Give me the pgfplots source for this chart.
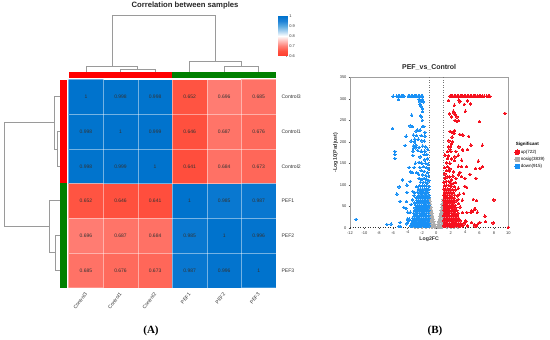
\documentclass[border=0pt]{standalone}
\usepackage{pgfplots}
\pgfplotsset{compat=1.18}
\usepackage{pgfplotstable}
\usepackage{fontspec}
\setmainfont{Liberation Sans}
\newfontfamily\serifb{Liberation Serif}
\definecolor{dend}{HTML}{9A9A9A}
\definecolor{upred}{HTML}{F5101E}
\definecolor{downblue}{HTML}{1890F5}
\definecolor{nsgray}{HTML}{ADADAD}
\definecolor{bargreen}{HTML}{008000}
\definecolor{txt}{HTML}{333333}
\pgfplotsset{hm/.style={colormap={hm}{rgb255=(255,60,45) rgb255=(255,82,64) rgb255=(255,128,118) rgb255=(255,190,185) rgb255=(255,255,255) rgb255=(170,210,240) rgb255=(90,170,225) rgb255=(30,130,215) rgb255=(0,115,205)},point meta min=0.6,point meta max=1}}
\pgfplotstableread{
x y z t
0 0 1 1
1 0 0.998 0.998
2 0 0.998 0.998
3 0 0.652 0.652
4 0 0.696 0.696
5 0 0.685 0.685
0 1 0.998 0.998
1 1 1 1
2 1 0.999 0.999
3 1 0.646 0.646
4 1 0.687 0.687
5 1 0.676 0.676
0 2 0.998 0.998
1 2 0.999 0.999
2 2 1 1
3 2 0.641 0.641
4 2 0.684 0.684
5 2 0.673 0.673
0 3 0.652 0.652
1 3 0.646 0.646
2 3 0.641 0.641
3 3 1 1
4 3 0.985 0.985
5 3 0.987 0.987
0 4 0.696 0.696
1 4 0.687 0.687
2 4 0.684 0.684
3 4 0.985 0.985
4 4 1 1
5 4 0.996 0.996
0 5 0.685 0.685
1 5 0.676 0.676
2 5 0.673 0.673
3 5 0.987 0.987
4 5 0.996 0.996
5 5 1 1
}\hmdata
\begin{document}
\begin{tikzpicture}[x=1pt,y=1pt]
\path[use as bounding box] (0,0) rectangle (550,340);
% ---------- overlay in picture pixels: dendrograms, bars, titles
\begin{axis}[at={(0pt,0pt)},anchor=south west,scale only axis,width=550pt,height=340pt,
  xmin=0,xmax=550,ymin=0,ymax=340,y dir=reverse,hide axis,clip=false]
\addplot[fill=red,draw=none] coordinates {(68.7,71.7)(172.3,71.7)(172.3,78)(68.7,78)} -- cycle;
\addplot[fill=bargreen,draw=none] coordinates {(172.3,71.7)(276,71.7)(276,78)(172.3,78)} -- cycle;
\addplot[fill=red,draw=none] coordinates {(59.7,79.7)(67,79.7)(67,183.3)(59.7,183.3)} -- cycle;
\addplot[fill=bargreen,draw=none] coordinates {(59.7,183.3)(67,183.3)(67,287.7)(59.7,287.7)} -- cycle;
% top dendrogram
\addplot[dend,line width=.7pt] coordinates {(112,66.3)(112,15.7)(215.3,15.7)(215.3,61.3)};
\addplot[dend,line width=.7pt] coordinates {(86,71.5)(86,66.3)(137.7,66.3)(137.7,69.3)};
\addplot[dend,line width=.7pt] coordinates {(120.3,71.5)(120.3,69.3)(155.3,69.3)(155.3,71.5)};
\addplot[dend,line width=.7pt] coordinates {(189.7,71.5)(189.7,61.3)(241.3,61.3)(241.3,66.7)};
\addplot[dend,line width=.7pt] coordinates {(224,71.5)(224,66.7)(258.7,66.7)(258.7,71.5)};
% left dendrogram
\addplot[dend,line width=.7pt] coordinates {(54.3,122.7)(4.7,122.7)(4.7,226.7)(49.3,226.7)};
\addplot[dend,line width=.7pt] coordinates {(59.5,96.7)(54.3,96.7)(54.3,149)(57.3,149)};
\addplot[dend,line width=.7pt] coordinates {(59.5,131.7)(57.3,131.7)(57.3,166)(59.5,166)};
\addplot[dend,line width=.7pt] coordinates {(59.5,200.7)(49.3,200.7)(49.3,252.7)(55,252.7)};
\addplot[dend,line width=.7pt] coordinates {(59.5,235.7)(55,235.7)(55,270)(59.5,270)};
\node[font=\fontsize{7.7}{9}\selectfont\bfseries,text=black!85] at (axis cs:185,6) {Correlation between samples};
\node[font=\fontsize{11}{13}\selectfont\serifb\bfseries] at (axis cs:151,331) {(A)};
\node[font=\fontsize{11}{13}\selectfont\serifb\bfseries] at (axis cs:435,331) {(B)};
\end{axis}
% ---------- heatmap
\begin{axis}[at={(68.7pt,52.3pt)},anchor=south west,scale only axis,width=207.3pt,height=208pt,hm,
  xmin=-0.5,xmax=5.5,ymin=-0.5,ymax=5.5,y dir=reverse,enlargelimits=false,
  axis on top,axis line style={draw=none},
  xtick={0,1,2,3,4,5},ytick={0,1,2,3,4,5},
  xticklabels={Control3,Control1,Control2,PEF1,PEF2,PEF3},
  yticklabels={Control3,Control1,Control2,PEF1,PEF2,PEF3},
  minor xtick={0.5,1.5,2.5,3.5,4.5},minor ytick={0.5,1.5,2.5,3.5,4.5},
  xminorgrids,yminorgrids,minor grid style={white,opacity=.45,line width=.5pt,solid},
  tick style={draw=none},minor tick length=0pt,major tick length=0pt,
  yticklabel pos=right,xtick pos=bottom,
  xticklabel style={rotate=52,anchor=north east,font=\fontsize{5}{6}\selectfont,text=txt,xshift=-1pt,yshift=1.8pt},
  yticklabel style={anchor=west,font=\fontsize{5.1}{6}\selectfont,text=txt,xshift=2pt},
  nodes near coords style={font=\fontsize{5}{6}\selectfont,text=txt}]
\addplot[matrix plot*,mesh/cols=6,point meta=explicit] table[x=x,y=y,meta=z] {\hmdata};
\addplot[only marks,mark=none,nodes near coords,nodes near coords align={center},point meta=explicit symbolic] table[x=x,y=y,meta=t] {\hmdata};
\end{axis}
% ---------- colour bar
\begin{axis}[at={(278.3pt,284.3pt)},anchor=south west,scale only axis,width=9pt,height=40pt,hm,
  view={0}{90},xmin=0,xmax=1,ymin=0.6,ymax=1,xtick=\empty,ytick={0.6,0.7,0.8,0.9,1},ytick pos=right,
  axis line style={draw=none},major tick length=1pt,tick style={draw=white!60!black,line width=.3pt},
  yticklabel style={font=\fontsize{4}{5}\selectfont,text=txt,xshift=-1.5pt},
  /pgf/number format/assume math mode=true]
\addplot[surf,shader=interp,mesh/rows=2,point meta=y] coordinates {(0,0.6)(1,0.6)(0,1)(1,1)};
\end{axis}
% ---------- volcano
\begin{axis}[at={(350pt,112.3pt)},anchor=south west,scale only axis,width=158.3pt,height=150.4pt,
  xmin=-12,xmax=10,ymin=0,ymax=350,clip=false,
  axis line style={draw=none},tick pos=left,tick align=outside,major tick length=1.5pt,
  tick style={draw=black!70,line width=.3pt},
  xtick={-12,-10,-8,-6,-4,-2,0,2,4,6,8,10},ytick={0,50,100,150,200,250,300,350},
  ticklabel style={font=\fontsize{4}{5}\selectfont,text=txt},
  xticklabel style={yshift=1.5pt},yticklabel style={xshift=1.5pt},
  /pgf/number format/assume math mode=true,
  title={PEF\_vs\_Control},title style={font=\fontsize{7}{8}\selectfont\bfseries,text=black!85,yshift=-3pt},
  xlabel={Log2FC},xlabel style={font=\fontsize{5.2}{6}\selectfont\bfseries,text=txt,yshift=4.5pt},
  ylabel={-Log10(Padjust)},ylabel style={font=\fontsize{5.2}{6}\selectfont\bfseries,text=txt,yshift=-5pt},
  legend style={draw=none,fill=none,at={(1.002,0.573)},anchor=north west,font=\fontsize{4.5}{5.4}\selectfont,
    row sep=0.4pt,inner sep=0pt,nodes={inner sep=1pt}},
  legend cell align=left,
  ptup/.style={only marks,mark=*,mark size=1.25pt,color=upred,line width=0pt,mark options={solid,fill=upred,draw=upred,line width=0pt}},
  ptns/.style={only marks,mark=*,mark size=1.25pt,color=nsgray,line width=0pt,mark options={solid,fill=nsgray,draw=nsgray,line width=0pt}},
  ptdn/.style={only marks,mark=*,mark size=1.25pt,color=downblue,line width=0pt,mark options={solid,fill=downblue,draw=downblue,line width=0pt}},
  ]
\addlegendimage{empty legend}\addlegendentry{\hspace{-5pt}\textbf{Significant}}
\addlegendimage{ptup,mark size=2.4pt}\addlegendentry{up(722)}
\addlegendimage{ptns,mark size=2.4pt}\addlegendentry{nosig(3839)}
\addlegendimage{ptdn,mark size=2.4pt}\addlegendentry{down(915)}
% frame
\addplot[gray!75,line width=1pt,forget plot] coordinates {(-12,0)(-12,350)(10,350)(10,0)};
% nosig
\addplot[ptns,forget plot] coordinates {
(-0.12,2)(-0.3,2)(-0.5,2)(-0.7,2)(-0.9,2)(0.12,2)(0.3,2)(0.5,2)(0.7,2)(0.9,2)
(-0.25,8)(-0.45,8)(-0.65,8)(-0.85,8)(0.25,8)(0.45,8)(0.65,8)(0.85,8)
(-0.35,14)(-0.55,14)(-0.75,14)(-0.95,14)(0.35,14)(0.55,14)(0.75,14)(0.95,14)
(-0.42,20)(-0.62,20)(-0.82,20)(0.42,20)(0.62,20)(0.82,20)
(-0.5,27)(-0.72,27)(-0.93,27)(0.5,27)(0.72,27)(0.93,27)
(-0.6,34)(-0.8,34)(0.6,34)(0.8,34)(-0.95,36)(0.95,36)
(-0.68,41)(-0.88,41)(0.68,41)(0.88,41)
(-0.75,48)(-0.93,48)(0.75,48)(0.93,48)
(-0.82,55)(-0.95,56)(0.82,55)(0.95,56)(-0.9,62)(0.9,62)(-0.95,67)(0.95,66)
(-1.5,1)(-2,1)(-2.5,1)(-3,1)(1.5,1)(2,1)(2.5,1)(3,1)
};
% down
\addplot[ptdn,forget plot] coordinates {
(-6,306)(-5.5,306)(-5.3,306)(-5.1,306)(-4.9,306)(-4.7,306)(-4.5,306)(-3.9,306)(-3.7,306)(-3.5,306)(-3.3,306)(-3.1,306)(-2.9,306)(-2.7,306)(-2.5,306)(-2.3,306)(-2.1,306)(-1.9,306)
(-5.28,298.5)(-2.4,299)(-1.95,299)(-2.27,293)(-1.8,293)(-2.25,286)(-2.13,283)(-1.95,277)(-1.9,270)(-2.2,260)(-2.04,258)(-1.95,250)(-3.43,262)
(-6.07,231)(-3.66,237)(-3.29,235)(-2.8,225)(-2.6,227)(-2.27,227)(-1.9,235)(-1.72,235)(-1.58,222)
(-4.2,213)(-3.2,215.6)(-2.74,214)(-2.13,214)(-1.58,213)(-3.5,201.6)(-3,206)(-2.5,206)(-3.06,200)(-2,202)(-1.67,201.6)
(-4.35,191)(-3.2,190)(-2.83,192)(-2.85,186)(-3.2,185)(-2.4,187)(-1.9,190)(-1.55,188)(-1.2,183)(-2.6,180)(-2.1,178)
(-5.75,177)(-5.75,170)(-5.75,161)(-3.25,178)(-3.25,168)(-2.27,165)(-1.6,178)(-2.1,177)(-1.7,170)(-1.3,170)(-1.2,160)(-1.6,158)
(-3.8,140)(-3.1,140)(-2.9,150)(-2.4,152)(-2,150)(-1.5,150)(-1.15,148)(-3.57,130)(-3.34,128)(-2.7,128)(-2.3,140)(-1.8,142)(-2.1,133)(-1.4,140)(-1.1,137)(-1.7,131)(-1.25,128)(-2.45,124)(-1.9,123)(-1.5,122)(-1.1,120)
(-4.68,111)(-5.19,95)(-5.47,78.4)(-5.05,61)(-4.08,99)(-4.08,82)(-4.17,60.6)(-4.5,46.6)(-4.2,45)(-4,36)(-3.6,36)(-3.5,54)(-3.66,107)(-2.74,95.4)(-3.25,84)(-3,81.5)(-3.1,75)(-2.8,70)(-3.3,65)(-3,58)
(-2.4,115)(-2,112)(-1.7,115)(-1.35,113)(-1.05,110)(-2.2,106)(-1.85,105)(-1.5,106)(-1.2,104)
(-2.3,98)(-1.95,97)(-1.65,98)(-1.35,97)(-1.05,96)(-2.5,90)(-2.2,90)(-1.9,90)(-1.6,90)(-1.3,90)(-1.05,89)
(-2.6,83)(-2.3,83)(-2,83)(-1.75,83)(-1.45,83)(-1.2,83)(-2.45,76)(-2.15,76)(-1.9,76)(-1.6,76)(-1.35,76)(-1.05,76)
(-2.65,70)(-2.35,70)(-2.1,70)(-1.85,70)(-1.55,70)(-1.25,70)(-1.05,70)
(-2.75,64)(-2.5,64)(-2.2,64)(-1.95,64)(-1.7,64)(-1.45,64)(-1.2,64)
(-2.6,58)(-2.35,58)(-2.1,58)(-1.85,58)(-1.6,58)(-1.35,58)(-1.1,58)
(-2.85,52)(-2.55,52)(-2.3,52)(-2.05,52)(-1.8,52)(-1.55,52)(-1.3,52)(-1.05,52)
(-2.95,46)(-2.65,46)(-2.4,46)(-2.15,46)(-1.9,46)(-1.65,46)(-1.4,46)(-1.15,46)
(-3.05,40)(-2.75,40)(-2.5,40)(-2.25,40)(-2,40)(-1.75,40)(-1.5,40)(-1.25,40)(-1.03,40)
(-3.15,34)(-2.85,34)(-2.6,34)(-2.35,34)(-2.1,34)(-1.85,34)(-1.6,34)(-1.35,34)(-1.1,34)
(-3.05,28)(-2.8,28)(-2.55,28)(-2.3,28)(-2.05,28)(-1.8,28)(-1.55,28)(-1.3,28)(-1.05,28)
(-3.3,22)(-3.05,22)(-2.8,22)(-2.55,22)(-2.3,22)(-2.05,22)(-1.8,22)(-1.55,22)(-1.3,22)(-1.05,22)
(-3.35,16)(-3.1,16)(-2.85,16)(-2.6,16)(-2.35,16)(-2.1,16)(-1.85,16)(-1.6,16)(-1.35,16)(-1.1,16)
(-3.45,10)(-3.2,10)(-2.95,10)(-2.7,10)(-2.45,10)(-2.2,10)(-1.95,10)(-1.7,10)(-1.45,10)(-1.2,10)(-1.03,10)
(-3.55,4)(-3.3,4)(-3.05,4)(-2.8,4)(-2.55,4)(-2.3,4)(-2.05,4)(-1.8,4)(-1.55,4)(-1.3,4)(-1.05,4)
(-11.16,19.5)(-6.86,7)(-6.3,8.6)(-5.05,11.8)(-5.2,3)(-5.0,3)(-4.03,20)(-3.8,20)(-4.1,9)(-3.9,15)
};
% up
\addplot[ptup,forget plot] coordinates {
(1.9,306)(2.1,306)(2.3,306)(2.5,306)(2.7,306)(2.9,306)(3.1,306)(3.3,306)(3.5,306)(3.7,306)(3.9,306)(4.1,306)(4.3,306)(4.5,306)(4.7,306)(4.9,306)(5.1,306)(5.3,306)(5.5,306)(5.7,306)(5.93,306)(6.2,306)(6.4,306)(6.65,306)(7,306)(7.2,306)(7.45,306)
(1.71,296)(2.5,285)(3.14,297)(3.28,293)(3.88,287)(4.35,295)(4.76,288)(4.02,271)(1.8,265)(2.36,271)(2.45,267.5)(2.6,264)(2.1,258)(2.87,258)(2.6,250)(2.87,247)(3.1,249)(5.97,247)(9.53,266)
(1.9,224)(2.54,226)(2.31,221)(2.5,219.5)(3.28,217)(3.7,215.6)(4.5,212.5)(2.2,211)(1.75,202)(2.26,200)(2.12,195)(1.66,188)(1.98,188)(4.81,192)(6.4,192)(3.14,188)(3.65,182)(4.3,182)(1.9,182)
(1.57,177)(2.03,177)(2.73,177)(3.65,180)(3.05,169)(1.66,167)(1.2,169)(2.59,165)(1.57,161)(2.12,160)(3.5,157)(1.89,150)(1.43,151)(5.83,155)(2.5,156)(3.05,143)(4.2,142)(3.5,142)(6.43,142)(6.06,138)(5.46,138)
(1.57,142)(1.89,137)(1.43,133)(1.8,132)(2.36,130)(3.28,129)(4.67,124)(3.05,123)(3.5,119)(3.98,115)(5.5,115)(2.73,115)(2.12,111)(1.2,125)(1.15,115)(1.5,118)(1.85,118)(2.3,120)(1.1,140)(1.05,105)
(1.35,108)(1.7,108)(2,104)(2.35,103)(2.65,105)(1.1,98)(1.4,99)(1.75,98)(2.1,97)(2.5,96)(3.98,96)(4.2,94)(3.05,92)(1.05,90)(1.3,90)(1.6,90)(1.9,90)(2.25,89)(2.7,88)
(1.1,83)(1.4,83)(1.7,83)(2,83)(2.35,82)(3.8,80)(3.2,78)(1.05,76)(1.3,76)(1.55,76)(1.85,76)(2.15,76)(2.55,76)(2.9,74)
(5.14,66)(5.6,63)(8,64.5)(3.6,64)(3.05,66)(1.1,70)(1.35,70)(1.6,70)(1.9,70)(2.2,70)(2.5,69)(1.05,64)(1.3,64)(1.55,64)(1.8,64)(2.05,64)(2.35,64)(2.75,62)
(1.1,58)(1.35,58)(1.6,58)(1.85,58)(2.1,58)(2.4,58)(3.1,56)(1.05,52)(1.3,52)(1.55,52)(1.8,52)(2.05,52)(2.3,52)(2.6,52)
(1.1,46)(1.35,46)(1.6,46)(1.85,46)(2.1,46)(2.35,46)(2.7,46)(3.3,48)(1.05,40)(1.3,40)(1.55,40)(1.8,40)(2.05,40)(2.3,40)(2.55,40)(2.85,40)
(5.4,43)(4.9,39)(5.7,36)(4.26,35)(3.6,35)(5.04,38)(5.27,43)(4.81,35)(6.76,27)
(1.1,34)(1.35,34)(1.6,34)(1.85,34)(2.1,34)(2.35,34)(2.6,34)(3,34)(1.05,28)(1.3,28)(1.55,28)(1.8,28)(2.05,28)(2.3,28)(2.55,28)(2.85,28)
(1.1,22)(1.35,22)(1.6,22)(1.85,22)(2.1,22)(2.35,22)(2.6,22)(2.85,22)(3.1,22)
(1.05,16)(1.3,16)(1.55,16)(1.8,16)(2.05,16)(2.3,16)(2.55,16)(2.8,16)(3.05,16)(3.3,16)(4.07,16)(6.85,14)(4.1,14)
(1.1,10)(1.35,10)(1.6,10)(1.85,10)(2.1,10)(2.35,10)(2.6,10)(2.85,10)(3.1,10)(3.4,10)(3.84,9)(4.9,12)(5.83,10)(6.06,12)(7.9,11)(5.27,7)
(1.05,4)(1.3,4)(1.55,4)(1.8,4)(2.05,4)(2.3,4)(2.55,4)(2.8,4)(3.05,4)(3.3,4)(3.6,4)(4.3,4)(5.4,4)(5.6,4)(10,1)
};
% dotted guides
\addplot[black!55,dotted,line width=.5pt,forget plot] coordinates {(-1,0)(-1,350)};
\addplot[black!55,dotted,line width=.5pt,forget plot] coordinates {(1,0)(1,350)};
\addplot[black!80,dotted,line width=.5pt,forget plot] coordinates {(-12,1.3)(10,1.3)};
\end{axis}
\end{tikzpicture}
\end{document}
